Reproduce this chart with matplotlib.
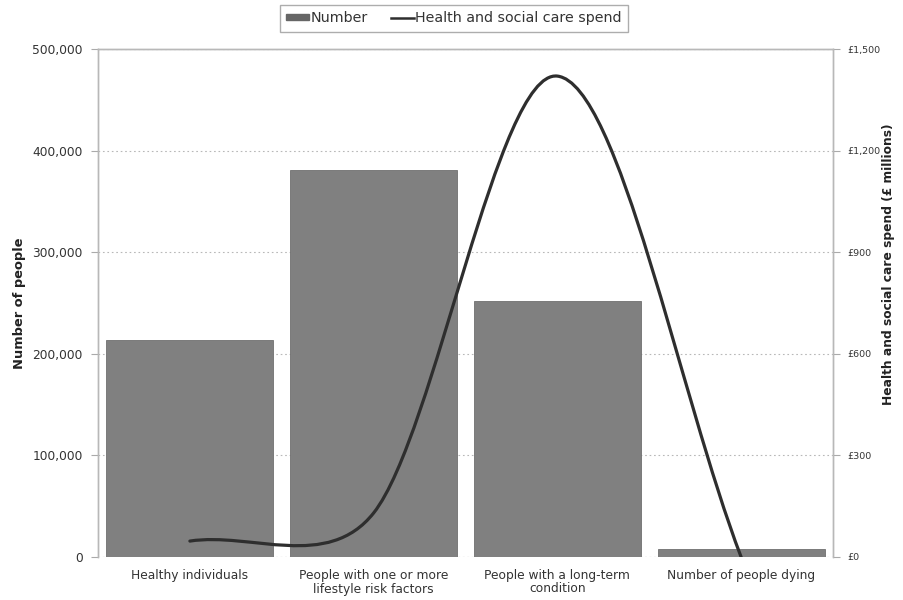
import numpy as np
import matplotlib
matplotlib.use("Agg")
import matplotlib.pyplot as plt
from matplotlib.path import Path
from matplotlib.patches import PathPatch, Patch
from matplotlib.lines import Line2D
from matplotlib.ticker import FuncFormatter

plt.rcParams['font.family'] = ['DejaVu Sans']

categories = ["Healthy individuals",
              "People with one or more\nlifestyle risk factors",
              "People with a long-term\ncondition",
              "Number of people dying"]
people = [214000, 381000, 252000, 8000]
spend = [47, 130, 1420, 0]          # £ millions
left_ticks = [0, 100000, 200000, 300000, 400000, 500000]
right_ticks = [0, 300, 600, 900, 1200, 1500]

BAR_COLOR = "#808080"
LINE_COLOR = "#2e2e2e"
GRID_COLOR = "#b8b8b8"
TEXT_COLOR = "#333333"

fig = plt.figure(figsize=(9.04, 6.0), dpi=100)
ax = fig.add_axes([98/904, 1-557/600, (833-98)/904, (557-49)/600])
ax2 = ax.twinx()

x = np.arange(len(categories))
ax.bar(x, people, width=0.91, color=BAR_COLOR, edgecolor="#707070", linewidth=0.6, zorder=2)
ax.set_xlim(-0.5, len(categories) - 0.5)
ax.set_ylim(0, 500000)
ax.set_yticks(left_ticks)
ax.yaxis.set_major_formatter(FuncFormatter(lambda v, p: f"{int(v):,}"))
ax.grid(axis='y', color=GRID_COLOR, linestyle=(0, (1.5, 2.5)), linewidth=0.8, zorder=0)
ax.axhline(0, color=GRID_COLOR, linestyle=(0, (1.5, 2.5)), linewidth=0.8, zorder=1)
ax.set_axisbelow(True)
ax.set_xticks(x)
ax.set_xticklabels(categories, fontsize=8.8, color=TEXT_COLOR, linespacing=1.0)
ax.tick_params(axis='x', length=0, pad=9)
ax.tick_params(axis='y', length=5, color="#aaaaaa", labelsize=8.8, labelcolor=TEXT_COLOR, pad=6)
ax.set_ylabel("Number of people", fontsize=9.4, fontweight='bold', color="#222222")
ax.yaxis.set_label_coords((26 - 98) / 735, 0.5)

ax2.set_ylim(0, 1500)
ax2.set_yticks(right_ticks)
ax2.yaxis.set_major_formatter(FuncFormatter(lambda v, p: f"£{int(v):,}"))
ax2.tick_params(axis='y', length=5, color="#aaaaaa", labelsize=6.8, labelcolor=TEXT_COLOR, pad=5)
ax2.set_ylabel("Health and social care spend (£ millions)", fontsize=8.8, fontweight='bold',
               color="#222222")
ax2.yaxis.set_label_coords((882 - 98) / 735, (557 - 264) / 508)

for a in (ax, ax2):
    for s in a.spines.values():
        s.set_color("#b8b8b8")
        s.set_linewidth(1.0)
ax.spines['bottom'].set_visible(False)
ax2.spines['bottom'].set_visible(False)

# smoothed line (Excel-like Bezier smoothing through the data points)
pts = np.column_stack([x, spend]).astype(float)
disp = ax2.transData.transform(pts)
n = len(pts)
K = 1/6
KEND = 1/3
P = 0.3
verts = [tuple(pts[0])]
codes = [Path.MOVETO]
for i in range(n - 1):
    p0, p1 = pts[i], pts[i+1]
    d_fwd = np.linalg.norm(disp[i+1] - disp[i])
    if i == 0:
        c1 = p0 + (p1 - p0) * KEND
    else:
        d_back = np.linalg.norm(disp[i] - disp[i-1])
        s = min(1.0, d_fwd / d_back) ** P
        c1 = p0 + (pts[i+1] - pts[i-1]) * K * s
    if i + 1 == n - 1:
        c2 = p1 - (p1 - p0) * KEND
    else:
        d_next = np.linalg.norm(disp[i+2] - disp[i+1])
        s = min(1.0, d_fwd / d_next) ** P
        c2 = p1 - (pts[i+2] - pts[i]) * K * s
    verts += [tuple(c1), tuple(c2), tuple(p1)]
    codes += [Path.CURVE4, Path.CURVE4, Path.CURVE4]
ax2.add_patch(PathPatch(Path(verts, codes), facecolor='none', edgecolor=LINE_COLOR,
                        linewidth=2.3, zorder=3, capstyle='round'))

handles = [Patch(facecolor="#666666", edgecolor="#666666"),
           Line2D([0], [0], color=LINE_COLOR, linewidth=1.8)]
leg = fig.legend(handles, ["Number", "Health and social care spend"], loc='upper center',
                 bbox_to_anchor=(454/904, 1-5/600), ncol=2, fontsize=10.3, frameon=True,
                 fancybox=False, edgecolor="#999999", handlelength=1.6, handleheight=0.3,
                 handletextpad=0.1, columnspacing=1.6, borderpad=0.45, borderaxespad=0)
leg.get_frame().set_linewidth(1.0)
for t in leg.get_texts():
    t.set_color(TEXT_COLOR)

fig.savefig("out.png", dpi=100)
